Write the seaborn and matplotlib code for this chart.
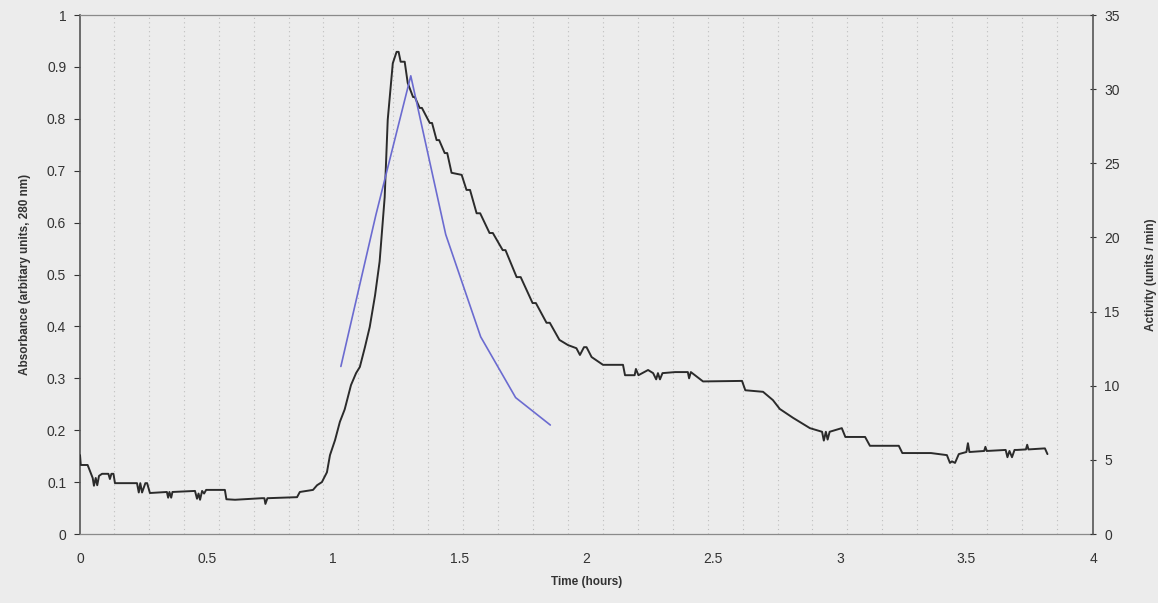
import numpy as np
import pandas as pd
import matplotlib
matplotlib.use("Agg")
import matplotlib.pyplot as plt
import seaborn as sns

# Absorbance trace (280 nm) against elution time
time_h = [
    0.000, 0.003, 0.030, 0.050, 0.055, 0.062, 0.068, 0.075, 0.087, 0.112,
    0.118, 0.124, 0.132, 0.138, 0.225, 0.232, 0.238, 0.245, 0.258, 0.265,
    0.276, 0.343, 0.348, 0.353, 0.360, 0.365, 0.454, 0.462, 0.468, 0.474,
    0.482, 0.490, 0.498, 0.572, 0.578, 0.612, 0.718, 0.728, 0.732, 0.740,
    0.857, 0.868, 0.920, 0.936, 0.955, 0.975, 0.987, 1.007, 1.026, 1.045,
    1.070, 1.090, 1.105, 1.125, 1.144, 1.165, 1.183, 1.203, 1.215, 1.235,
    1.250, 1.258, 1.266, 1.282, 1.294, 1.315, 1.322, 1.341, 1.350, 1.381,
    1.390, 1.408, 1.418, 1.440, 1.450, 1.467, 1.507, 1.526, 1.540, 1.566,
    1.580, 1.617, 1.630, 1.669, 1.680, 1.708, 1.724, 1.740, 1.787, 1.800,
    1.842, 1.855, 1.893, 1.927, 1.960, 1.974, 1.990, 2.000, 2.020, 2.065,
    2.144, 2.152, 2.190, 2.195, 2.205, 2.243, 2.263, 2.275, 2.282, 2.290,
    2.300, 2.350, 2.400, 2.405, 2.412, 2.460, 2.614, 2.627, 2.697, 2.736,
    2.763, 2.815, 2.882, 2.930, 2.937, 2.945, 2.952, 2.960, 3.008, 3.022,
    3.100, 3.119, 3.233, 3.247, 3.360, 3.423, 3.435, 3.443, 3.455, 3.470,
    3.500, 3.506, 3.512, 3.570, 3.575, 3.580, 3.655, 3.662, 3.670, 3.680,
    3.690, 3.700, 3.735, 3.740, 3.745, 3.810, 3.820,
]
absorbance = [
    0.152, 0.133, 0.133, 0.108, 0.093, 0.108, 0.094, 0.112, 0.116, 0.116,
    0.106, 0.116, 0.116, 0.098, 0.098, 0.080, 0.098, 0.080, 0.098, 0.098,
    0.079, 0.081, 0.070, 0.081, 0.070, 0.081, 0.083, 0.068, 0.078, 0.066,
    0.083, 0.078, 0.085, 0.085, 0.067, 0.066, 0.069, 0.069, 0.058, 0.069,
    0.071, 0.081, 0.085, 0.094, 0.100, 0.119, 0.152, 0.181, 0.216, 0.240,
    0.287, 0.310, 0.322, 0.360, 0.399, 0.460, 0.525, 0.649, 0.798, 0.907,
    0.929, 0.929, 0.910, 0.910, 0.869, 0.842, 0.842, 0.821, 0.821, 0.792,
    0.792, 0.759, 0.759, 0.734, 0.734, 0.696, 0.692, 0.663, 0.663, 0.618,
    0.618, 0.580, 0.580, 0.547, 0.547, 0.514, 0.495, 0.495, 0.445, 0.445,
    0.407, 0.407, 0.374, 0.364, 0.358, 0.345, 0.360, 0.360, 0.341, 0.326,
    0.326, 0.306, 0.306, 0.318, 0.306, 0.316, 0.310, 0.298, 0.310, 0.298,
    0.310, 0.312, 0.312, 0.300, 0.312, 0.294, 0.295, 0.277, 0.274, 0.258,
    0.241, 0.224, 0.204, 0.197, 0.180, 0.197, 0.182, 0.197, 0.204, 0.187,
    0.187, 0.170, 0.170, 0.156, 0.156, 0.152, 0.137, 0.140, 0.137, 0.154,
    0.158, 0.175, 0.158, 0.160, 0.168, 0.160, 0.162, 0.148, 0.160, 0.148,
    0.162, 0.162, 0.163, 0.172, 0.163, 0.165, 0.154,
]

# Enzyme activity of the collected fractions
fraction_time_h = [1.030, 1.168, 1.306, 1.444, 1.582, 1.720, 1.857]
activity = [11.3, 21.5, 30.9, 20.2, 13.3, 9.2, 7.35]

x_ticks = [0, 0.5, 1, 1.5, 2, 2.5, 3, 3.5, 4]
x_tick_labels = ["0", "0.5", "1", "1.5", "2", "2.5", "3", "3.5", "4"]
left_ticks = [0, 0.1, 0.2, 0.3, 0.4, 0.5, 0.6, 0.7, 0.8, 0.9, 1]
left_tick_labels = ["0", "0.1", "0.2", "0.3", "0.4", "0.5", "0.6", "0.7", "0.8", "0.9", "1"]
right_ticks = [0, 5, 10, 15, 20, 25, 30, 35]

sns.set_style("white")
plt.rcParams["font.family"] = ["Liberation Sans", "DejaVu Sans"]

bg = "#ececec"
fig = plt.figure(figsize=(11.58, 6.03), dpi=100, facecolor=bg)
ax = fig.add_axes([0.0691, 0.1144, 0.8748, 0.8607])
ax.set_facecolor(bg)

# fraction boundaries, drawn as faint dotted verticals
for xb in 0.134 + 0.1379 * np.arange(28):
    ax.axvline(xb, color="#a0a0a0", lw=0.8, ls=(0, (1, 3)), alpha=0.6, zorder=0)

abs_df = pd.DataFrame({"t": time_h, "a": absorbance})
sns.lineplot(data=abs_df, x="t", y="a", ax=ax, color="#2b2b2b", lw=1.4,
             sort=False, estimator=None, zorder=3)

ax.set_xlim(0, 4)
ax.set_ylim(0, 1)
ax.set_xticks(x_ticks)
ax.set_xticklabels(x_tick_labels)
ax.set_yticks(left_ticks)
ax.set_yticklabels(left_tick_labels)
ax.tick_params(axis="both", labelsize=10, colors="#333333", length=4, width=0.8,
               direction="out", pad=6)
ax.tick_params(axis="x", pad=9)
ax.set_xlabel("Time (hours)", fontsize=8.5, fontweight="bold", color="#333333", labelpad=7)
ax.set_ylabel("Absorbance (arbitary units, 280 nm)", fontsize=8.5, fontweight="bold",
              color="#333333", labelpad=11)

for side in ["top", "bottom"]:
    ax.spines[side].set_color("#8a8a8a")
    ax.spines[side].set_linestyle((0, (4, 1)))
    ax.spines[side].set_linewidth(0.9)
ax.spines["left"].set_color("#555555")
ax.spines["left"].set_linewidth(1.2)
ax.spines["right"].set_visible(False)

ax2 = ax.twinx()
act_df = pd.DataFrame({"t": fraction_time_h, "u": activity})
sns.lineplot(data=act_df, x="t", y="u", ax=ax2, color="#6b6bd0", lw=1.2,
             sort=False, estimator=None, zorder=4)
ax2.set_ylim(0, 35)
ax2.set_yticks(right_ticks)
ax2.tick_params(axis="y", labelsize=10, colors="#333333", length=4, width=0.8,
                direction="inout", pad=6)
ax2.set_ylabel("Activity (units / min)", fontsize=8.5, fontweight="bold",
               color="#333333", labelpad=18)
ax2.set_xlabel("")
for side in ["top", "bottom", "left"]:
    ax2.spines[side].set_visible(False)
ax2.spines["right"].set_color("#555555")
ax2.spines["right"].set_linewidth(1.2)

fig.savefig("out.png", dpi=100, facecolor=bg)
